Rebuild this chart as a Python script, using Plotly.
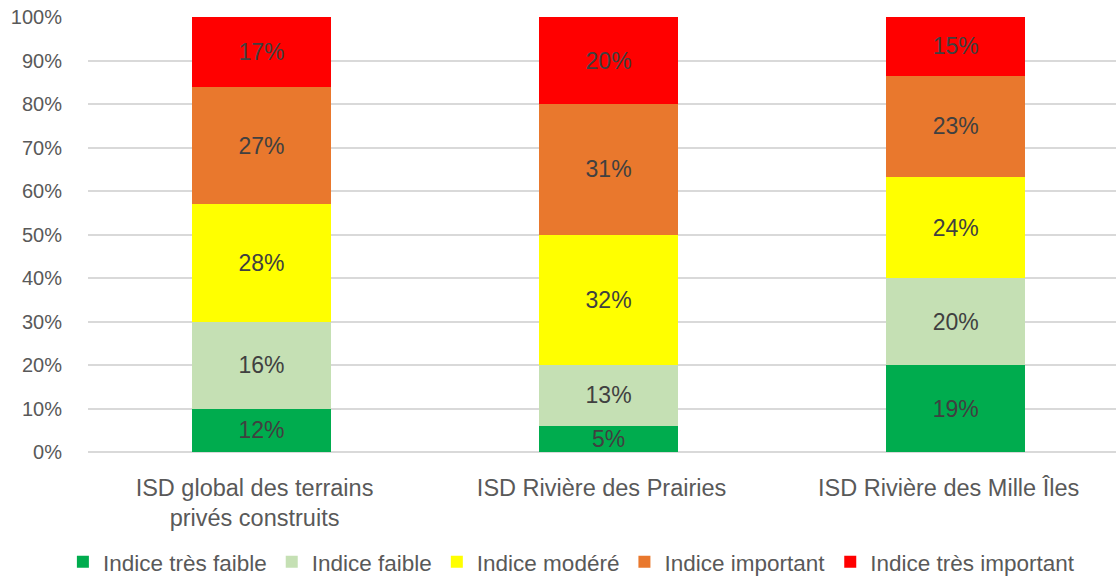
import plotly.graph_objects as go

categories = ["ISD global des terrains<br>privés construits",
              "ISD Rivière des Prairies",
              "ISD Rivière des Mille Îles"]
series_names = ["Indice très faible", "Indice faible", "Indice modéré",
                "Indice important", "Indice très important"]
colors = ["#00AC4E", "#C5E0B4", "#FFFF00", "#E9782D", "#FF0000"]

# bar heights as drawn (percent of each bar)
tres_faible = [10.0, 6.0, 20.0]
faible = [20.0, 14.0, 20.0]
modere = [27.0, 30.0, 23.2]
important = [26.8, 30.0, 23.3]
tres_important = [16.2, 20.0, 13.5]

# printed data labels
lbl_tres_faible = ["12%", "5%", "19%"]
lbl_faible = ["16%", "13%", "20%"]
lbl_modere = ["28%", "32%", "24%"]
lbl_important = ["27%", "31%", "23%"]
lbl_tres_important = ["17%", "20%", "15%"]

y_tick_values = [0, 10, 20, 30, 40, 50, 60, 70, 80, 90, 100]
y_tick_labels = ["0%", "10%", "20%", "30%", "40%", "50%", "60%", "70%", "80%", "90%", "100%"]

values = [tres_faible, faible, modere, important, tres_important]
labels = [lbl_tres_faible, lbl_faible, lbl_modere, lbl_important, lbl_tres_important]

FONT = "Liberation Sans, Arial, sans-serif"

fig = go.Figure()
for name, vals, lbls, col in zip(series_names, values, labels, colors):
    fig.add_trace(go.Bar(
        name=name, x=categories, y=vals, text=lbls,
        marker=dict(color=col, line=dict(width=0)),
        textposition="inside", insidetextanchor="middle", constraintext="none",
        textfont=dict(family=FONT, size=23, color="#404040"),
        hoverinfo="skip",
    ))

fig.update_layout(
    barmode="stack",
    bargap=0.6,
    width=1116, height=576,
    margin=dict(l=88, r=0, t=17, b=124, autoexpand=False),
    plot_bgcolor="white", paper_bgcolor="white",
    font=dict(family=FONT, color="#595959"),
    showlegend=True,
    hovermode=False,
    legend=dict(
        orientation="h", xref="container", yref="container",
        x=0.512, xanchor="center", y=0.024, yanchor="middle",
        font=dict(family=FONT, size=22.5, color="#595959"),
        traceorder="normal", itemwidth=30,
    ),
    xaxis=dict(
        range=[-0.5, 2.462], showgrid=False, showline=False, ticks="",
        tickfont=dict(family=FONT, size=23.5, color="#595959"),
        ticklabelstandoff=19, ticklabelshift=-7,
    ),
    yaxis=dict(
        range=[0, 100], tickmode="array", tickvals=y_tick_values, ticktext=y_tick_labels,
        showgrid=True, gridcolor="#D9D9D9", gridwidth=1.5,
        zeroline=True, zerolinecolor="#D9D9D9", zerolinewidth=1.5,
        showline=False, ticks="", ticklabeloverflow="allow",
        tickfont=dict(family=FONT, size=20, color="#595959"),
        ticklabelstandoff=25,
    ),
)

fig.write_html("out.html", config={"displayModeBar": False},
               post_script="document.body.style.margin='0';")
